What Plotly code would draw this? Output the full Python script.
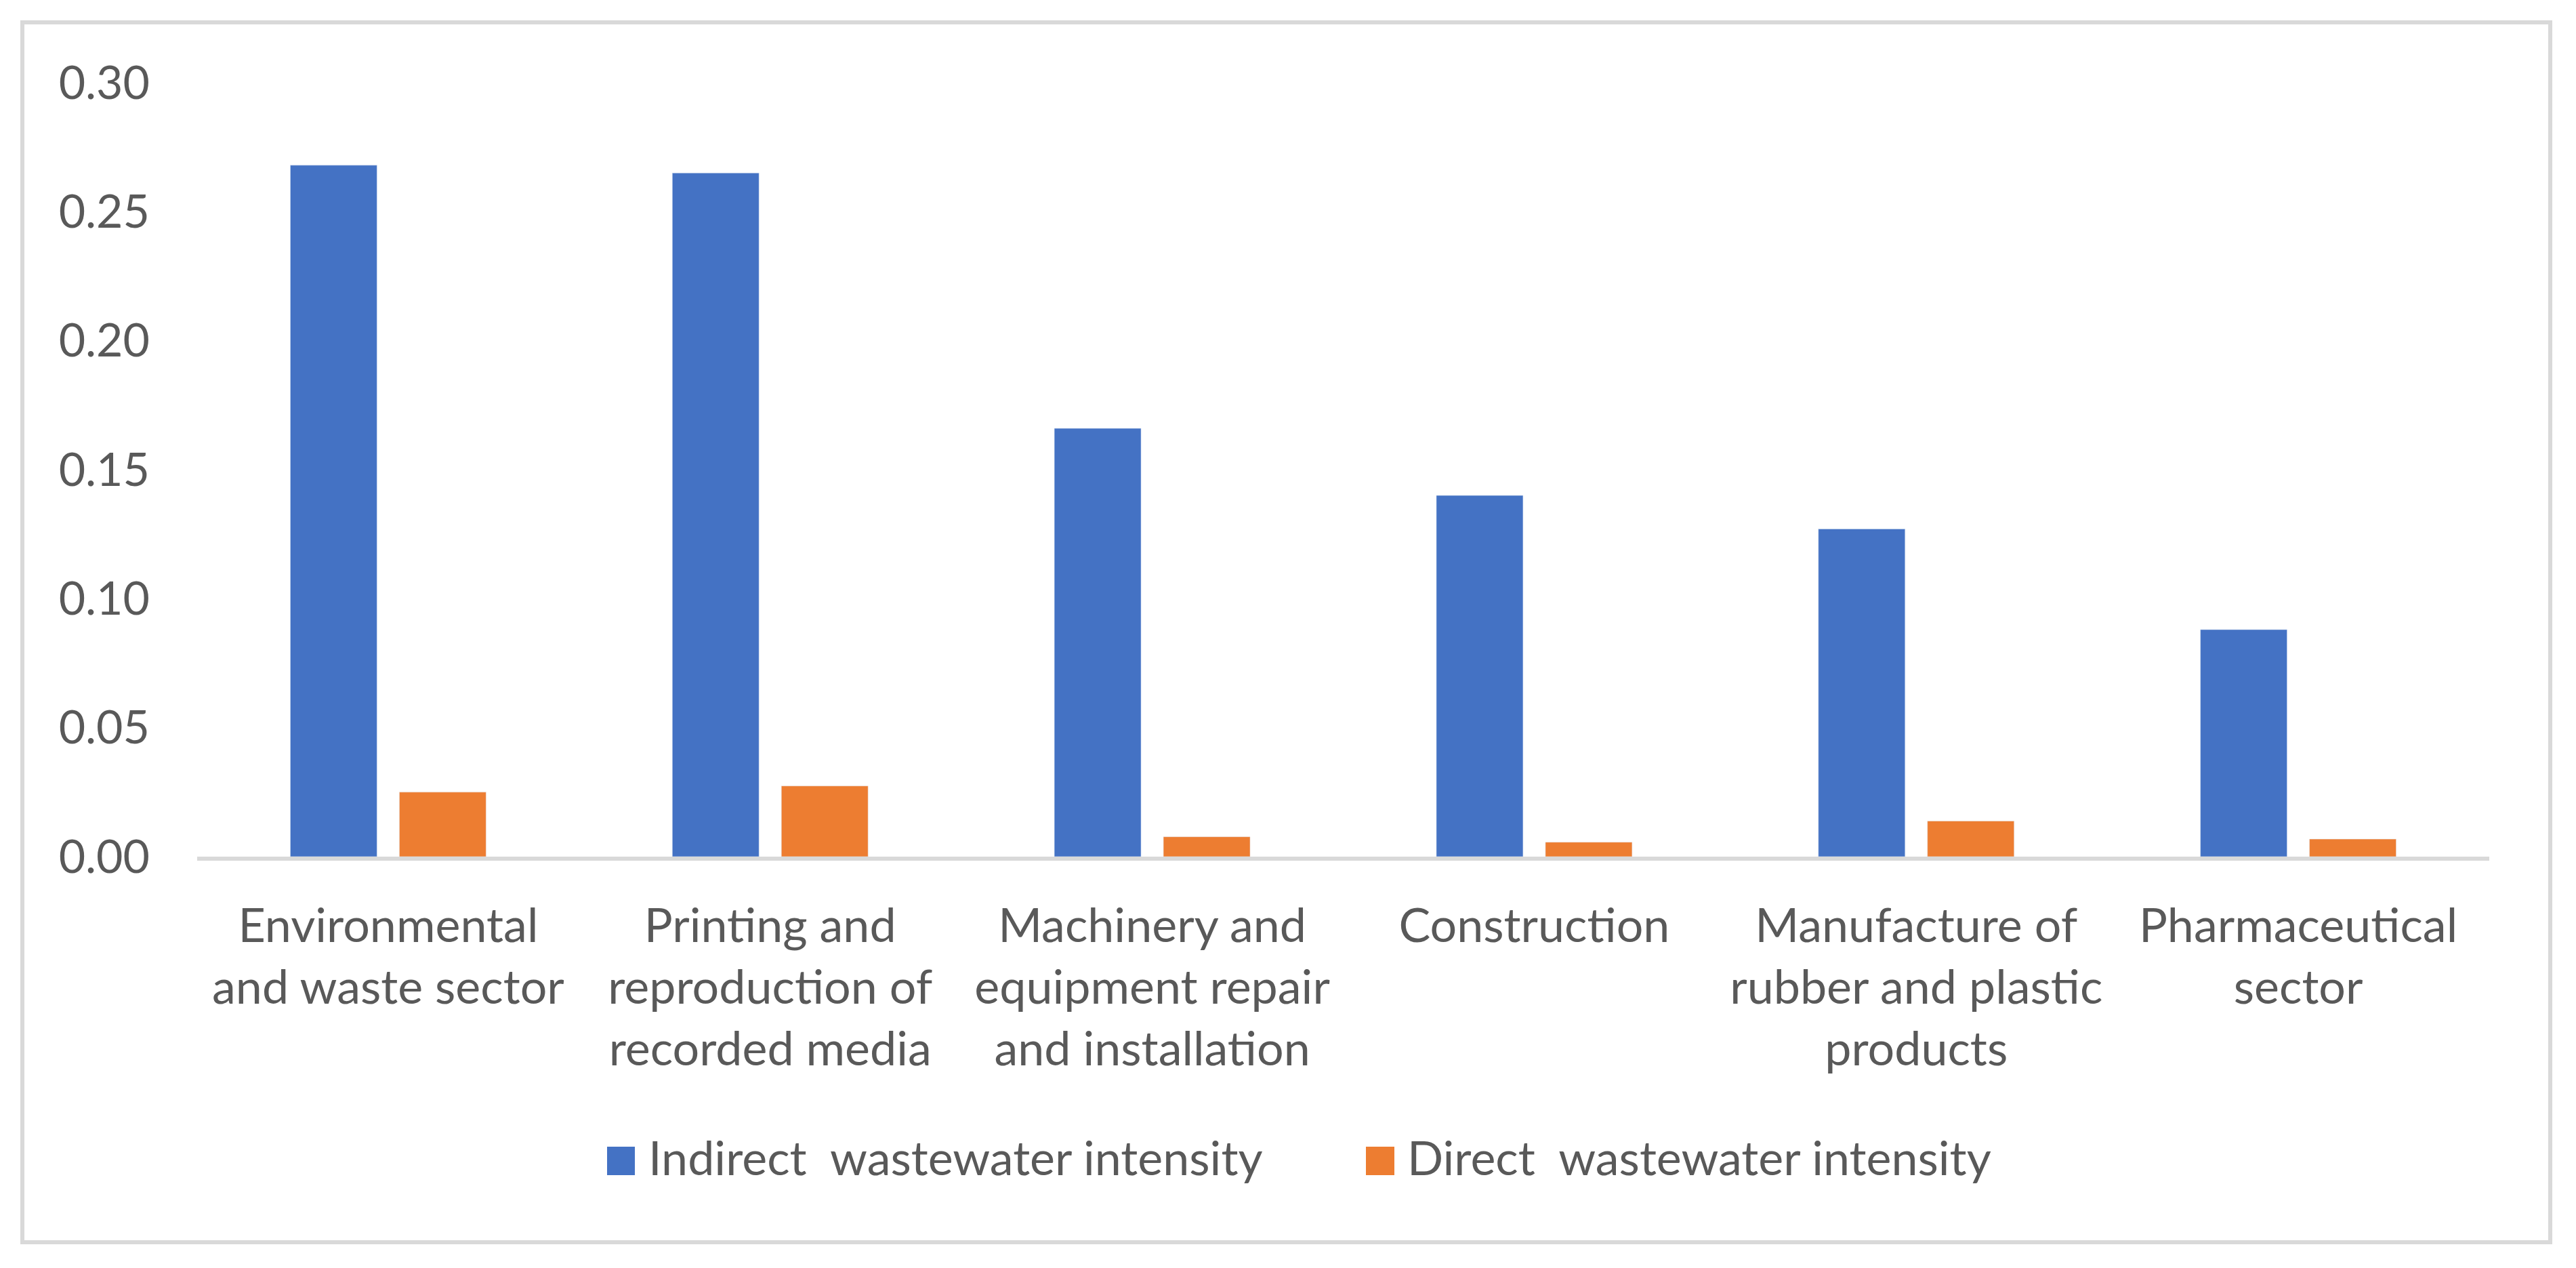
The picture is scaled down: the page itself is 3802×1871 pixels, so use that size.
import plotly.graph_objects as go

categories = [
    "Environmental<br>and waste sector",
    "Printing and<br>reproduction of<br>recorded media",
    "Machinery and<br>equipment repair<br>and installation",
    "Construction",
    "Manufacture of<br>rubber and plastic<br>products",
    "Pharmaceutical<br>sector",
]
indirect = [0.268, 0.265, 0.166, 0.140, 0.127, 0.088]
direct = [0.025, 0.0274, 0.0077, 0.0056, 0.0138, 0.0068]
series_names = ["Indirect \u00a0wastewater intensity", "Direct \u00a0wastewater intensity"]
y_ticks = [0.0, 0.05, 0.10, 0.15, 0.20, 0.25, 0.30]

BLUE = "#4472C4"
ORANGE = "#ED7D31"
TEXT = "#595959"
GRID = "#D9D9D9"
FONT = "Lato"

W, H = 3802, 1871
L, R, T, B = 291, 128, 122, 607
PW, PH = W - L - R, H - T - B


def px(x):
    return (x - L) / PW


def py(y):
    return (H - B - y) / PH


fig = go.Figure()
fig.add_trace(go.Bar(x=categories, y=indirect, name=series_names[0], marker_color=BLUE, showlegend=False))
fig.add_trace(go.Bar(x=categories, y=direct, name=series_names[1], marker_color=ORANGE, showlegend=False))

shapes = [
    dict(type="rect", xref="paper", yref="paper", x0=px(33), x1=px(3764), y0=py(33), y1=py(1833),
         line=dict(color=GRID, width=6), fillcolor="rgba(0,0,0,0)", layer="below"),
    dict(type="rect", xref="paper", yref="paper", x0=px(896), x1=px(937), y0=py(1692), y1=py(1734),
         line=dict(width=0), fillcolor=BLUE),
    dict(type="rect", xref="paper", yref="paper", x0=px(2016), x1=px(2058), y0=py(1692), y1=py(1734),
         line=dict(width=0), fillcolor=ORANGE),
]
annotations = [
    dict(xref="paper", yref="paper", x=px(955), y=py(1707), text=series_names[0], showarrow=False,
         xanchor="left", yanchor="middle", font=dict(family=FONT, size=70, color=TEXT)),
    dict(xref="paper", yref="paper", x=px(2075), y=py(1707), text=series_names[1], showarrow=False,
         xanchor="left", yanchor="middle", font=dict(family=FONT, size=70, color=TEXT)),
]

fig.update_layout(
    width=W, height=H,
    margin=dict(l=L, r=R, t=T, b=B, pad=0),
    paper_bgcolor="white", plot_bgcolor="white",
    barmode="group", bargap=0.429, bargroupgap=0.205,
    font=dict(family=FONT, size=70, color=TEXT),
    shapes=shapes, annotations=annotations,
    showlegend=False,
)
fig.update_xaxes(showline=True, linecolor=GRID, linewidth=6, showgrid=False, ticks="",
                 ticklabelstandoff=36, tickfont=dict(family=FONT, size=70, color=TEXT))
fig.update_yaxes(range=[0, 0.30], tickvals=y_ticks, tickformat=".2f", showgrid=False, zeroline=False,
                 showline=False, ticks="", ticklabelstandoff=69,
                 tickfont=dict(family=FONT, size=68, color=TEXT))

fig.write_html("out.html", config={"displayModeBar": False},
               post_script="document.body.style.margin='0';document.body.style.overflow='hidden';")
